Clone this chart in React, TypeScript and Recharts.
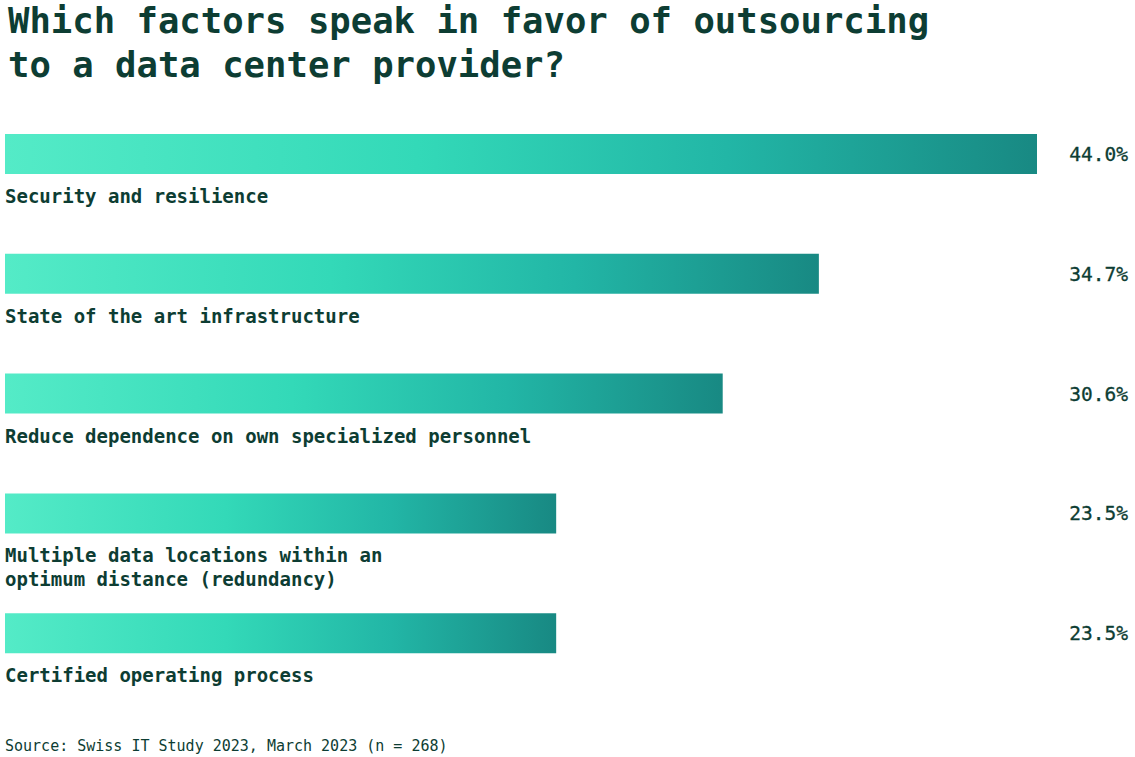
import React from "react";
import { BarChart, Bar, XAxis, YAxis, LabelList } from "recharts";

const factors = [
  ["Security and resilience"],
  ["State of the art infrastructure"],
  ["Reduce dependence on own specialized personnel"],
  ["Multiple data locations within an", "optimum distance (redundancy)"],
  ["Certified operating process"],
];
const shares = [44.0, 34.7, 30.6, 23.5, 23.5];

const data = factors.map((lines, i) => ({ name: lines.join(" "), lines, value: shares[i] }));

const MONO = "'DejaVu Sans Mono', 'Liberation Mono', monospace";
const DARK = "#0d3d33";

function CategoryLabel(props: any) {
  const { x, y, height, index } = props;
  const lines = factors[index];
  return (
    <text x={x} y={y + height + 29} fill={DARK} fontFamily={MONO} fontSize={19} fontWeight={600}>
      {lines.map((l, i) => (
        <tspan key={i} x={x} dy={i === 0 ? 0 : 24}>
          {l}
        </tspan>
      ))}
    </text>
  );
}

function ValueLabel(props: any) {
  const { y, height, value } = props;
  return (
    <text
      x={1128}
      y={y + height / 2 + 7}
      textAnchor="end"
      fill={DARK}
      stroke={DARK}
      strokeWidth={0.3}
      fontFamily={MONO}
      fontSize={19.5}
    >
      {value.toFixed(1)}%
    </text>
  );
}

export default function App() {
  return (
    <div style={{ position: "absolute", left: 0, top: 0, width: 1135, height: 757, background: "#fff" }}>
      <div
        style={{
          position: "absolute",
          left: 8,
          top: -1,
          fontFamily: MONO,
          fontSize: 35.6,
          lineHeight: "43.5px",
          fontWeight: 700,
          color: DARK,
          whiteSpace: "pre",
        }}
      >
        {"Which factors speak in favor of outsourcing\nto a data center provider?"}
      </div>
      <div style={{ position: "absolute", left: 0, top: 0 }}>
        <BarChart
          width={1135}
          height={757}
          data={data}
          layout="vertical"
          margin={{ top: 94, right: 98, bottom: 64, left: 5 }}
          barCategoryGap={0}
        >
          <defs>
            <linearGradient id="barGrad" x1="0" y1="0" x2="1" y2="0">
              <stop offset="0%" stopColor="#54ebc7" />
              <stop offset="40%" stopColor="#33d9b8" />
              <stop offset="70%" stopColor="#22b6a6" />
              <stop offset="100%" stopColor="#188983" />
            </linearGradient>
          </defs>
          <XAxis type="number" domain={[0, 44]} hide />
          <YAxis type="category" dataKey="name" hide />
          <Bar dataKey="value" fill="url(#barGrad)" barSize={40} isAnimationActive={false}>
            <LabelList dataKey="value" content={<CategoryLabel />} />
            <LabelList dataKey="value" content={<ValueLabel />} />
          </Bar>
        </BarChart>
      </div>
      <div
        style={{
          position: "absolute",
          left: 5,
          top: 737,
          fontFamily: MONO,
          fontSize: 15,
          lineHeight: "18px",
          color: DARK,
          whiteSpace: "pre",
        }}
      >
        Source: Swiss IT Study 2023, March 2023 (n = 268)
      </div>
    </div>
  );
}
